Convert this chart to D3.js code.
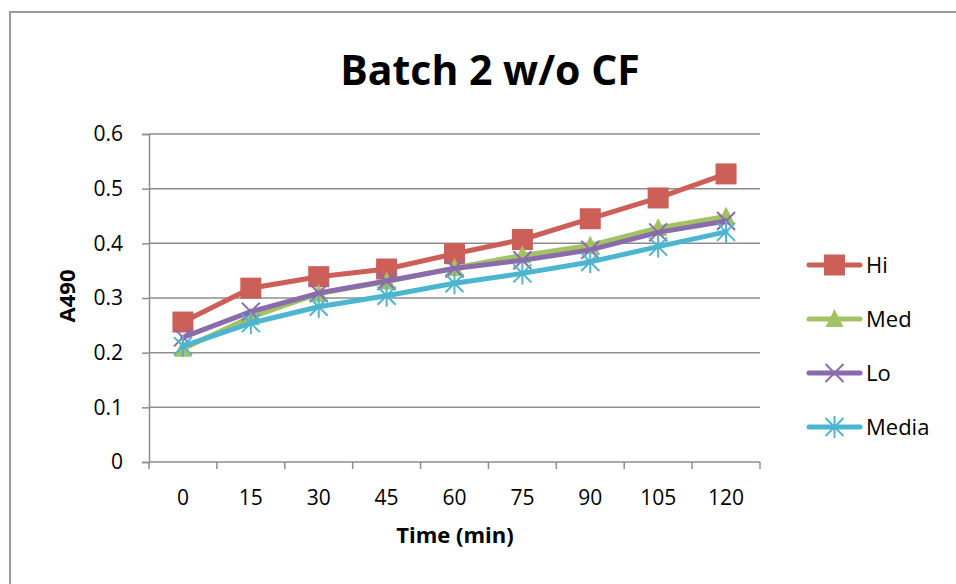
<!DOCTYPE html>
<html>
<head>
<meta charset="utf-8">
<script src="https://cdn.jsdelivr.net/npm/d3@7"></script>
<style>
  body { margin: 0; background: #fff; }
  svg text { font-family: "Open Sans", "Noto Sans", sans-serif; fill: #000; }
</style>
</head>
<body>
<div id="chart"></div>
<script>
// chart data
const times = ["0", "15", "30", "45", "60", "75", "90", "105", "120"];
const hiValues = [0.256, 0.318, 0.339, 0.353, 0.381, 0.407, 0.445, 0.483, 0.527];
const medValues = [0.207, 0.265, 0.308, 0.330, 0.355, 0.378, 0.396, 0.428, 0.449];
const loValues = [0.228, 0.275, 0.309, 0.331, 0.354, 0.369, 0.388, 0.420, 0.441];
const mediaValues = [0.212, 0.254, 0.284, 0.304, 0.327, 0.345, 0.366, 0.394, 0.421];
const yTicks = [0, 0.1, 0.2, 0.3, 0.4, 0.5, 0.6];

const seriesList = [
    { name: "Hi", values: hiValues, color: "#cc5f58", marker: "square" },
    { name: "Med", values: medValues, color: "#a2c264", marker: "triangle" },
    { name: "Lo", values: loValues, color: "#8a6cad", marker: "x" },
    { name: "Media", values: mediaValues, color: "#4cb5cf", marker: "star" }
];

const width = 956, height = 584;
const plot = { left: 149, right: 760, top: 134, bottom: 462 };

const svg = d3.select("#chart").append("svg")
    .attr("width", width)
    .attr("height", height);

// outer chart frame (runs off right/bottom edge like the screenshot)
svg.append("rect")
    .attr("x", 10).attr("y", 12)
    .attr("width", 1000).attr("height", 1000)
    .attr("fill", "none")
    .attr("stroke", "#999")
    .attr("stroke-width", 2);

const x = d3.scaleBand().domain(times).range([plot.left, plot.right]);
const y = d3.scaleLinear().domain([0, 0.6]).range([plot.bottom, plot.top]);

// gridlines
svg.append("g")
    .selectAll("line")
    .data(yTicks.filter(d => d > 0))
    .join("line")
    .attr("x1", plot.left).attr("x2", plot.right)
    .attr("y1", d => y(d)).attr("y2", d => y(d))
    .attr("stroke", "#8e8e8e")
    .attr("stroke-width", 1.5);

// y axis
const yAxis = svg.append("g")
    .attr("transform", `translate(${plot.left},0)`)
    .call(d3.axisLeft(y).tickValues(yTicks).tickSize(7).tickPadding(19)
        .tickFormat(d => d === 0 ? "0" : d3.format(".1f")(d)));
yAxis.select(".domain").attr("stroke", "#8e8e8e").attr("stroke-width", 1.5);
yAxis.selectAll(".tick line").attr("stroke", "#8e8e8e").attr("stroke-width", 1.5);
yAxis.selectAll(".tick text").attr("font-size", 21).attr("font-family", "Open Sans");

// x axis with ticks on band edges
const xAxis = svg.append("g")
    .attr("transform", `translate(0,${plot.bottom})`);
xAxis.append("line")
    .attr("x1", plot.left).attr("x2", plot.right)
    .attr("stroke", "#8e8e8e").attr("stroke-width", 1.5);
const edges = times.map(t => x(t)).concat([plot.right]);
xAxis.selectAll(".edge")
    .data(edges)
    .join("line")
    .attr("class", "edge")
    .attr("x1", d => d).attr("x2", d => d)
    .attr("y1", 0).attr("y2", 7)
    .attr("stroke", "#8e8e8e").attr("stroke-width", 1.5);
xAxis.selectAll(".lbl")
    .data(times)
    .join("text")
    .attr("class", "lbl")
    .attr("x", d => x(d) + x.bandwidth() / 2)
    .attr("y", 43)
    .attr("text-anchor", "middle")
    .attr("font-size", 21)
    .text(d => d);

// titles
svg.append("text")
    .attr("x", 490).attr("y", 85)
    .attr("text-anchor", "middle")
    .attr("font-size", 41)
    .attr("font-weight", "bold")
    .text("Batch 2 w/o CF");

svg.append("text")
    .attr("x", 455).attr("y", 543)
    .attr("text-anchor", "middle")
    .attr("font-size", 22)
    .attr("font-weight", "bold")
    .text("Time (min)");

svg.append("text")
    .attr("transform", "translate(75,296) rotate(-90)")
    .attr("text-anchor", "middle")
    .attr("font-size", 22)
    .attr("font-weight", "bold")
    .text("A490");

// marker drawing
function drawMarker(g, type, color) {
    if (type === "square") {
        g.append("rect").attr("x", -10.5).attr("y", -10.5).attr("width", 21).attr("height", 21)
            .attr("fill", color);
    } else if (type === "triangle") {
        g.append("path").attr("d", "M0,-10L9,8L-9,8Z").attr("fill", color);
    } else if (type === "x") {
        g.append("path").attr("d", "M-9,-9L9,9M-9,9L9,-9")
            .attr("stroke", color).attr("stroke-width", 2);
    } else if (type === "star") {
        g.append("path").attr("d", "M-9,-9L9,9M-9,9L9,-9M0,-11L0,11")
            .attr("stroke", color).attr("stroke-width", 2);
    }
}

const line = d3.line()
    .x((d, i) => x(times[i]) + x.bandwidth() / 2)
    .y(d => y(d));

seriesList.forEach(s => {
    const g = svg.append("g");
    g.append("path")
        .datum(s.values)
        .attr("d", line)
        .attr("fill", "none")
        .attr("stroke", s.color)
        .attr("stroke-width", 5)
        .attr("stroke-linejoin", "round")
        .attr("stroke-linecap", "round");
    s.values.forEach((v, i) => {
        const m = g.append("g")
            .attr("transform", `translate(${x(times[i]) + x.bandwidth() / 2},${y(v)})`);
        drawMarker(m, s.marker, s.color);
    });
});

// legend
const legendY = [265, 319, 373, 427];
const legend = svg.append("g");
seriesList.forEach((s, i) => {
    const g = legend.append("g").attr("transform", `translate(0,${legendY[i]})`);
    g.append("line")
        .attr("x1", 809).attr("x2", 860)
        .attr("stroke", s.color).attr("stroke-width", 5)
        .attr("stroke-linecap", "round");
    const m = g.append("g").attr("transform", "translate(834.5,0)");
    drawMarker(m, s.marker, s.color);
    g.append("text")
        .attr("x", 866).attr("y", 8)
        .attr("font-size", 22)
        .text(s.name);
});
</script>
</body>
</html>
